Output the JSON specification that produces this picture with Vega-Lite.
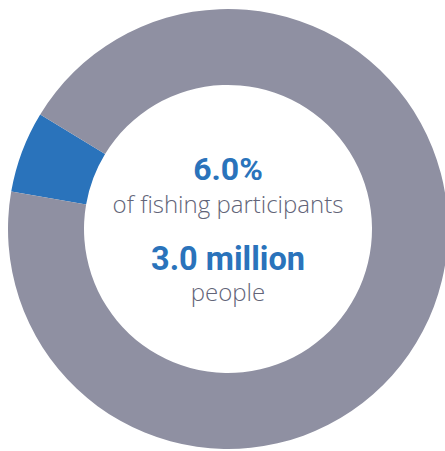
{
  "$schema": "https://vega.github.io/schema/vega-lite/v6.json",
  "autosize": {"type": "none"},
  "padding": {"left": 8, "top": 9, "right": 0, "bottom": 0},
  "width": 440,
  "height": 440,
  "background": "white",
  "view": {"stroke": null},
  "layer": [
    {
      "data": {"values": [
        {"group": "Participants", "value": 6.0},
        {"group": "Others", "value": 94.0}
      ]},
      "mark": {"type": "arc", "radius": 220, "radius2": 144},
      "encoding": {
        "theta": {"field": "value", "type": "quantitative", "stack": true,
          "scale": {"range": [4.8834, 11.1666]}},
        "order": {"field": "value", "type": "quantitative", "sort": "ascending"},
        "color": {"field": "group", "type": "nominal",
          "scale": {"domain": ["Participants", "Others"], "range": ["#2a73bb", "#8f90a2"]},
          "legend": null}
      }
    },
    {
      "data": {"values": [{"label": "6.0%"}]},
      "mark": {"type": "text", "font": "Roboto", "fontWeight": "bold", "fontSize": 32, "color": "#2a73bb", "align": "center", "baseline": "alphabetic", "dy": -49},
      "encoding": {"text": {"field": "label", "type": "nominal"}}
    },
    {
      "data": {"values": [{"label": "of fishing participants"}]},
      "mark": {"type": "text", "font": "Open Sans", "fontWeight": 300, "fontSize": 24, "color": "#626478", "align": "center", "baseline": "alphabetic", "dy": -16},
      "encoding": {"text": {"field": "label", "type": "nominal"}}
    },
    {
      "data": {"values": [{"label": "3.0 million"}]},
      "mark": {"type": "text", "font": "Roboto", "fontWeight": "bold", "fontSize": 32.5, "color": "#2a73bb", "align": "center", "baseline": "alphabetic", "dy": 41},
      "encoding": {"text": {"field": "label", "type": "nominal"}}
    },
    {
      "data": {"values": [{"label": "people"}]},
      "mark": {"type": "text", "font": "Open Sans", "fontWeight": 300, "fontSize": 24, "color": "#626478", "align": "center", "baseline": "alphabetic", "dy": 72},
      "encoding": {"text": {"field": "label", "type": "nominal"}}
    }
  ]
}
